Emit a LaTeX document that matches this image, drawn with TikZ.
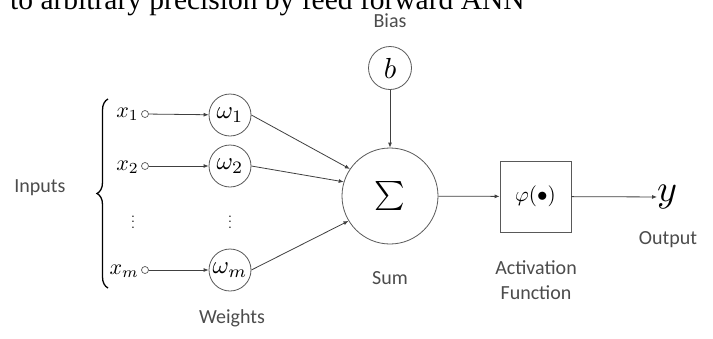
\documentclass[tikz,border=0pt]{standalone}
\usepackage{graphicx}
\usepackage{fontspec}
\setsansfont{Carlito}
\newfontfamily\titlefont{Liberation Serif}
\usetikzlibrary{arrows.meta,decorations.pathreplacing}
\newcommand{\mscl}[2]{\scalebox{#1}{$#2$}}
\begin{document}
\begin{tikzpicture}[x=1pt,y=-1pt,
  lbl/.style={font=\sffamily\fontsize{20}{22}\selectfont, text=black!70, inner sep=0pt},
  circ/.style={circle, draw=black!65, line width=0.8pt, minimum size=42pt, inner sep=0pt},
  dotc/.style={circle, draw=black!65, line width=0.7pt, minimum size=7pt, inner sep=0pt},
  conn/.style={draw=black!75, line width=0.8pt, -{Latex[length=5pt,width=4pt]}},
  mth/.style={inner sep=0pt}
]
\useasboundingbox (0,0) rectangle (713,338);
\clip (0,0) rectangle (713,338);
\fill[white] (0,0) rectangle (713,338);

% title (cut off at top)
\node[anchor=base west, inner sep=0pt, font=\titlefont\fontsize{29.5}{32}\selectfont] (title) at (10,9) {to arbitrary precision by feed forward ANN};

% labels
\node[lbl] (biaslbl) at (390,21) {Bias};
\node[lbl] (inputs) at (40,188) {Inputs};
\node[lbl] (sumlbl) at (390,278) {Sum};
\node[lbl, align=center, font=\sffamily\fontsize{20}{25}\selectfont] (actlbl) at (536,280) {Activation\\Function};
\node[lbl] (outlbl) at (668,240) {Output};
\node[lbl] (wlbl) at (232,318) {Weights};

% bias and sum
\node[circ, minimum size=43pt] (b) at (390,68) {\mscl{2.9}{b}};
\node[circ, minimum size=96pt] (sum) at (390,196) {\mscl{2.9}{\textstyle\sum}};
\node[draw=black!65, line width=0.8pt, minimum width=71pt, minimum height=71pt, inner sep=0pt] (act) at (535.5,196.5) {\mscl{2.1}{\varphi(\bullet)}};
\node[inner sep=0pt, anchor=west] (y) at (657,197) {\mscl{3.8}{y}};

% inputs
\node[mth, anchor=east] (x1) at (139,114) {\mscl{2.2}{x_1}};
\node[mth, anchor=east] (x2) at (139,167) {\mscl{2.2}{x_2}};
\node[mth] (xd) at (133,218) {\mscl{1.4}{\vdots}};
\node[mth, anchor=east] (xm) at (139,271) {\mscl{2.2}{x_m}};
\node[dotc] (d1) at (145,114) {};
\node[dotc] (d2) at (145,166) {};
\node[dotc] (dm) at (145,270) {};

% weights
\node[circ] (w1) at (230,115) {\mscl{2.5}{\omega_1}};
\node[circ] (w2) at (230,166) {\mscl{2.5}{\omega_2}};
\node[mth] (wd) at (230,218) {\mscl{1.4}{\vdots}};
\node[circ] (wm) at (230,270) {\mscl{2.5}{\omega_m}};

% brace
\coordinate (bb) at (108,288);
\coordinate (bt) at (108,99);
\draw[line width=1.3pt, decorate, decoration={brace, amplitude=11pt}] (bb) -- (bt);

% connectors
\draw[conn] (d1) -- (w1);
\draw[conn] (d2) -- (w2);
\draw[conn] (dm) -- (wm);
\draw[conn] (w1.east) -- (sum.146);
\draw[conn] (w2.east) -- (sum.163);
\draw[conn] (wm.east) -- (sum.211);
\draw[conn] (b) -- (sum);
\draw[conn] (sum) -- (act);
\draw[conn] (act) -- (y);
\end{tikzpicture}
\end{document}
